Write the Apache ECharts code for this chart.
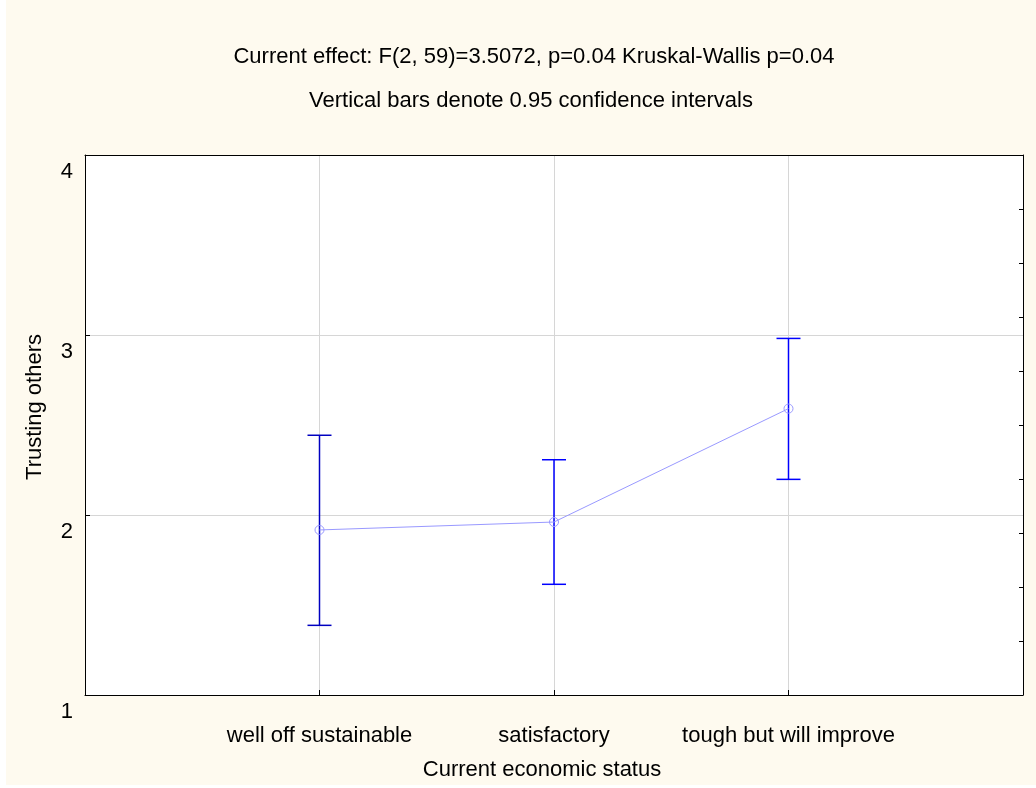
<!DOCTYPE html>
<html>
<head>
<meta charset="utf-8">
<script src="https://cdn.jsdelivr.net/npm/echarts@6/dist/echarts.min.js"></script>
<style>html,body{margin:0;padding:0;background:#fff;}#c{width:1036px;height:788px;}</style>
</head>
<body>
<div id="c"></div>
<script>
// ---- data ----
var categories = ['well off sustainable', 'satisfactory', 'tough but will improve'];
var categoryPos = [1, 2, 3];
var means = [1.917, 1.961, 2.591];
var lower = [1.387, 1.615, 2.198];
var upper = [2.443, 2.307, 2.981];
var barColors = ['#0000C0', '#0000FF', '#0000FF'];
var yTicks = [1, 2, 3, 4];
var titleLine1 = 'Current effect: F(2, 59)=3.5072, p=0.04 Kruskal-Wallis p=0.04';
var titleLine2 = 'Vertical bars denote 0.95 confidence intervals';
var xName = 'Current economic status';
var yName = 'Trusting others';

var FONT = 'Liberation Sans';
var FS = 22;

var chart = echarts.init(document.getElementById('c'), null, {renderer: 'canvas'});

var lineData = categoryPos.map(function (x, i) { return [x, means[i]]; });
var errData = categoryPos.map(function (x, i) { return [x, lower[i], upper[i], i]; });

var option = {
  backgroundColor: '#FEFAEF',
  animation: false,
  graphic: [
    {type: 'rect', shape: {x: 0, y: 0, width: 6, height: 788}, style: {fill: '#ffffff'}, silent: true, z: -10},
    {type: 'rect', shape: {x: 0, y: 785, width: 1036, height: 3}, style: {fill: '#ffffff'}, silent: true, z: -10},
    {type: 'text', x: 534, y: 57, style: {text: titleLine1, font: FS + 'px "' + FONT + '"', fill: '#000', textAlign: 'center', textVerticalAlign: 'middle'}},
    {type: 'text', x: 531, y: 101, style: {text: titleLine2, font: FS + 'px "' + FONT + '"', fill: '#000', textAlign: 'center', textVerticalAlign: 'middle'}}
  ],
  grid: {left: 85, right: 13, top: 155, bottom: 93, show: true, backgroundColor: '#ffffff', borderWidth: 0},
  xAxis: [
    {
      type: 'value', min: 0, max: 4, interval: 1, position: 'bottom',
      name: xName, nameLocation: 'middle', nameGap: 64,
      nameTextStyle: {fontFamily: FONT, fontSize: FS, color: '#000', padding: [0, 24, 0, 0]},
      axisLine: {show: true, lineStyle: {color: '#000', width: 1}},
      axisTick: {show: true, inside: true, length: 5, lineStyle: {color: '#000'}},
      axisLabel: {
        show: true, margin: 30, fontFamily: FONT, fontSize: FS, color: '#000',
        formatter: function (v) { var i = categoryPos.indexOf(v); return i >= 0 ? categories[i] : ''; }
      },
      splitLine: {show: true, showMinLine: false, showMaxLine: false, lineStyle: {color: '#D6D6D6', width: 1}}
    },
    {
      type: 'value', min: 0, max: 4, position: 'top',
      axisLine: {show: true, onZero: false, lineStyle: {color: '#000', width: 1}},
      axisTick: {show: false}, axisLabel: {show: false}, splitLine: {show: false}
    }
  ],
  yAxis: [
    {
      type: 'value', min: 1, max: 4, interval: 1, position: 'left',
      name: yName, nameLocation: 'middle', nameGap: 39, nameRotate: 90,
      nameTextStyle: {fontFamily: FONT, fontSize: FS, color: '#000', padding: [0, 0, 0, 36]},
      axisLine: {show: true, onZero: false, lineStyle: {color: '#000', width: 1}},
      axisTick: {show: true, inside: true, length: 5, lineStyle: {color: '#000'}},
      axisLabel: {
        show: true, margin: 12, fontFamily: FONT, fontSize: FS, color: '#000',
        verticalAlign: 'top', lineHeight: 34, showMinLabel: true, showMaxLabel: true,
        formatter: function (v) { return yTicks.indexOf(v) >= 0 ? String(v) : ''; }
      },
      splitLine: {show: true, showMinLine: false, showMaxLine: false, lineStyle: {color: '#D6D6D6', width: 1}}
    },
    {
      type: 'value', min: 0, max: 10, interval: 1, position: 'right',
      axisLine: {show: true, onZero: false, lineStyle: {color: '#000', width: 1}},
      axisTick: {show: true, inside: true, length: 4, lineStyle: {color: '#000'}},
      axisLabel: {show: false}, splitLine: {show: false}
    }
  ],
  series: [
    {
      type: 'custom',
      xAxisIndex: 0, yAxisIndex: 0,
      data: errData,
      z: 3,
      renderItem: function (params, api) {
        var x = api.value(0);
        var lo = api.coord([x, api.value(1)]);
        var hi = api.coord([x, api.value(2)]);
        var col = barColors[api.value(3)];
        var w = 12;
        var st = {stroke: col, lineWidth: 1.5, fill: null};
        return {
          type: 'group',
          children: [
            {type: 'line', shape: {x1: lo[0], y1: lo[1], x2: hi[0], y2: hi[1]}, style: st},
            {type: 'line', shape: {x1: hi[0] - w, y1: hi[1], x2: hi[0] + w, y2: hi[1]}, style: st},
            {type: 'line', shape: {x1: lo[0] - w, y1: lo[1], x2: lo[0] + w, y2: lo[1]}, style: st}
          ]
        };
      }
    },
    {
      type: 'line',
      xAxisIndex: 0, yAxisIndex: 0,
      data: lineData,
      z: 4,
      symbol: 'circle', symbolSize: 9,
      lineStyle: {color: '#9999FF', width: 1},
      itemStyle: {color: 'rgba(0,0,0,0)', borderColor: '#9999FF', borderWidth: 1},
      emphasis: {disabled: true}
    }
  ]
};
chart.setOption(option);
</script>
</body>
</html>
